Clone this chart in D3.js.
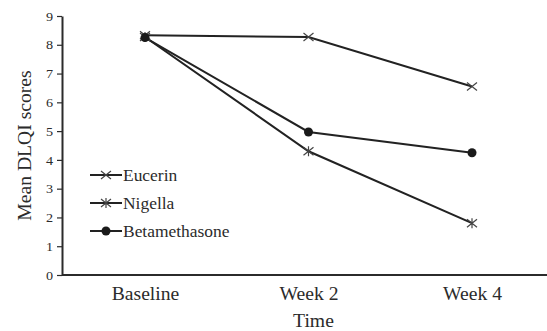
<!DOCTYPE html>
<html>
<head>
<meta charset="utf-8">
<script src="https://cdn.jsdelivr.net/npm/d3@7/dist/d3.min.js"></script>
<style>
  html, body { margin: 0; padding: 0; background: #fff; }
  svg { display: block; font-family: "Liberation Serif", "Times New Roman", serif; }
</style>
</head>
<body>
<svg id="chart" width="547" height="331"></svg>
<script>
// Mean DLQI scores over time by treatment group
const timepoints = ["Baseline", "Week 2", "Week 4"];
const eucerin = [8.33, 8.27, 6.55];
const nigella = [8.27, 4.3, 1.8];
const betamethasone = [8.25, 4.97, 4.25];
const yTicks = [0, 1, 2, 3, 4, 5, 6, 7, 8, 9];
const seriesNames = ["Eucerin", "Nigella", "Betamethasone"];

const series = [
  { name: seriesNames[0], values: eucerin, marker: "cross" },
  { name: seriesNames[1], values: nigella, marker: "star" },
  { name: seriesNames[2], values: betamethasone, marker: "dot" }
];

const svg = d3.select("#chart");
const ink = "#2b2b2b";
const serif = "'Liberation Serif', 'Times New Roman', serif";
const widen = 1.09; // the typeface runs a little wider than Times
const margin = { left: 62, right: 0, top: 16, bottom: 56 };
const W = 547, H = 331;

function stretch(sel) {
  sel.each(function () {
    const len = this.getComputedTextLength();
    d3.select(this).attr("textLength", len * widen).attr("lengthAdjust", "spacingAndGlyphs");
  });
}

const x = d3.scalePoint().domain(timepoints).range([145, 472]);
const y = d3.scaleLinear().domain([0, 9]).range([H - margin.bottom, margin.top]);

// y axis
const yAxis = svg.append("g")
  .attr("transform", `translate(${margin.left},0)`)
  .call(d3.axisLeft(y).tickValues(yTicks).tickSize(5).tickSizeOuter(0).tickPadding(4));
yAxis.select(".domain").attr("stroke", ink).attr("stroke-width", 2);
yAxis.selectAll(".tick line").attr("stroke", ink).attr("stroke-width", 1.2);
yAxis.selectAll(".tick text").attr("fill", ink)
  .style("font-size", "13px").style("font-family", serif).call(stretch);

// x axis: baseline rule only, category labels below
const xAxis = svg.append("g")
  .attr("transform", `translate(0,${y(0)})`)
  .call(d3.axisBottom(x).tickSize(0).tickPadding(12));
xAxis.select(".domain").attr("d", `M${margin.left},0H${W}`).attr("stroke", ink).attr("stroke-width", 2.2);
xAxis.selectAll(".tick text").attr("fill", ink)
  .style("font-size", "18px").style("font-family", serif).call(stretch);

// axis titles
svg.append("text")
  .attr("x", x("Week 2") + 5).attr("y", 327)
  .attr("text-anchor", "middle").attr("fill", ink)
  .style("font-size", "18px").text("Time").call(stretch);
svg.append("text")
  .attr("transform", `translate(31,${y(4.5)}) rotate(-90)`)
  .attr("text-anchor", "middle").attr("fill", ink)
  .style("font-size", "18px").text("Mean DLQI scores").call(stretch);

const line = d3.line().x((d, i) => x(timepoints[i])).y(d => y(d));

function drawMarker(g, kind, cx, cy) {
  if (kind === "dot") {
    g.append("circle").attr("cx", cx).attr("cy", cy).attr("r", 4.5).attr("fill", "#1a1a1a");
  } else {
    const s = 5;
    const p = `M${cx - s},${cy - s * 0.8}L${cx + s},${cy + s * 0.8}M${cx - s},${cy + s * 0.8}L${cx + s},${cy - s * 0.8}` +
      (kind === "star" ? `M${cx},${cy - s}L${cx},${cy + s}` : "");
    g.append("path").attr("d", p).attr("stroke", "#444").attr("stroke-width", 1.2).attr("fill", "none");
  }
}

const plot = svg.append("g");
series.forEach(s => {
  plot.append("path").datum(s.values).attr("d", line)
    .attr("fill", "none").attr("stroke", "#222").attr("stroke-width", 2);
});
series.forEach(s => {
  s.values.forEach((v, i) => drawMarker(plot, s.marker, x(timepoints[i]), y(v)));
});

// legend
const legend = svg.append("g");
const legendY = [175, 203, 231];
series.forEach((s, i) => {
  const ly = legendY[i];
  legend.append("line").attr("x1", 90).attr("x2", 122).attr("y1", ly).attr("y2", ly)
    .attr("stroke", "#222").attr("stroke-width", 2);
  drawMarker(legend, s.marker, 106, ly);
  legend.append("text").attr("x", 123).attr("y", ly).attr("dy", "0.35em")
    .attr("fill", ink).style("font-size", "16px").text(s.name).call(stretch);
});
</script>
</body>
</html>
